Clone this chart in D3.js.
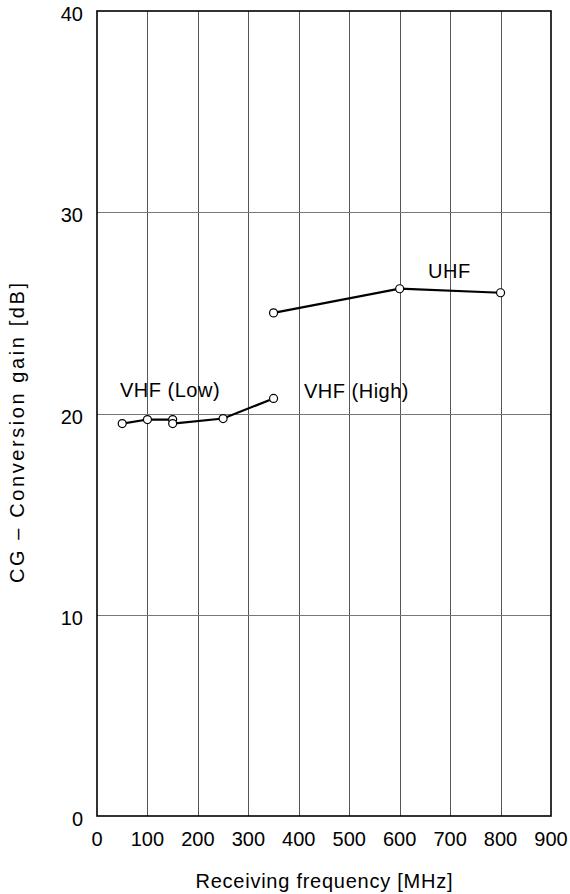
<!DOCTYPE html>
<html>
<head>
<meta charset="utf-8">
<script src="https://cdn.jsdelivr.net/npm/d3@7"></script>
<style>
  body { margin: 0; background: #fff; }
  svg { display: block; font-family: "Liberation Sans", Arial, sans-serif; }
</style>
</head>
<body>
<div id="chart"></div>
<script>
var xTicks = [0, 100, 200, 300, 400, 500, 600, 700, 800, 900];
var yTicks = [0, 10, 20, 30, 40];

var vhfLowFreq = [50, 100, 150];
var vhfLowGain = [19.5, 19.7, 19.7];

var vhfHighFreq = [150, 250, 350];
var vhfHighGain = [19.5, 19.75, 20.75];

var uhfFreq = [350, 600, 800];
var uhfGain = [25.0, 26.2, 26.0];

var seriesLabels = [
    {text: "VHF (Low)", x: 120, y: 397},
    {text: "VHF (High)", x: 304, y: 398},
    {text: "UHF", x: 428, y: 278}
];

var width = 570,
    height = 894,
    mLeft = 97,
    mRight = 551,
    mTop = 11,
    mBottom = 816;

var svg = d3.select("#chart")
    .append("svg")
    .attr("width", width)
    .attr("height", height);

var x = d3.scaleLinear().domain([0, 900]).range([mLeft, mRight]),
    y = d3.scaleLinear().domain([0, 40]).range([mBottom, mTop]);

// grid
svg.append("g")
    .selectAll("line")
    .data(xTicks.slice(1, -1))
    .join("line")
    .attr("x1", d => Math.round(x(d)) + 0.5)
    .attr("x2", d => Math.round(x(d)) + 0.5)
    .attr("y1", mTop)
    .attr("y2", mBottom)
    .attr("stroke", "#555")
    .attr("stroke-width", 1);

svg.append("g")
    .selectAll("line")
    .data(yTicks.slice(1, -1))
    .join("line")
    .attr("x1", mLeft)
    .attr("x2", mRight)
    .attr("y1", d => Math.round(y(d)) + 0.5)
    .attr("y2", d => Math.round(y(d)) + 0.5)
    .attr("stroke", "#777")
    .attr("stroke-width", 1);

// frame
svg.append("rect")
    .attr("x", mLeft)
    .attr("y", mTop)
    .attr("width", mRight - mLeft)
    .attr("height", mBottom - mTop)
    .attr("fill", "none")
    .attr("stroke", "#000")
    .attr("stroke-width", 1.6);

// tick labels
svg.append("g")
    .selectAll("text")
    .data(xTicks)
    .join("text")
    .attr("x", d => x(d))
    .attr("y", mBottom + 30)
    .attr("text-anchor", "middle")
    .style("font-size", "20px")
    .text(d => d);

svg.append("g")
    .selectAll("text")
    .data(yTicks)
    .join("text")
    .attr("x", mLeft - 14)
    .attr("y", d => y(d) + 10)
    .attr("text-anchor", "end")
    .style("font-size", "20px")
    .text(d => d);

// axis titles
svg.append("text")
    .attr("x", (mLeft + mRight) / 2)
    .attr("y", 888)
    .attr("text-anchor", "middle")
    .attr("textLength", 257)
    .attr("lengthAdjust", "spacing")
    .style("font-size", "20px")
    .text("Receiving frequency [MHz]");

svg.append("text")
    .attr("transform", "translate(24,433) rotate(-90)")
    .attr("text-anchor", "middle")
    .attr("textLength", 300)
    .attr("lengthAdjust", "spacing")
    .style("font-size", "20px")
    .text("CG \u2013 Conversion gain [dB]");

// series
var series = [
    d3.zip(vhfLowFreq, vhfLowGain),
    d3.zip(vhfHighFreq, vhfHighGain),
    d3.zip(uhfFreq, uhfGain)
];

var line = d3.line()
    .x(d => x(d[0]))
    .y(d => y(d[1]));

svg.append("g")
    .selectAll("path")
    .data(series)
    .join("path")
    .attr("d", line)
    .attr("fill", "none")
    .attr("stroke", "#000")
    .attr("stroke-width", 2.2);

svg.append("g")
    .selectAll("circle")
    .data(series.flat())
    .join("circle")
    .attr("cx", d => x(d[0]))
    .attr("cy", d => y(d[1]))
    .attr("r", 4)
    .attr("fill", "#fff")
    .attr("stroke", "#000")
    .attr("stroke-width", 1.2);

svg.append("g")
    .selectAll("text")
    .data(seriesLabels)
    .join("text")
    .attr("x", d => d.x)
    .attr("y", d => d.y)
    .style("font-size", "20px")
    .style("letter-spacing", "0.5px")
    .text(d => d.text);
</script>
</body>
</html>
